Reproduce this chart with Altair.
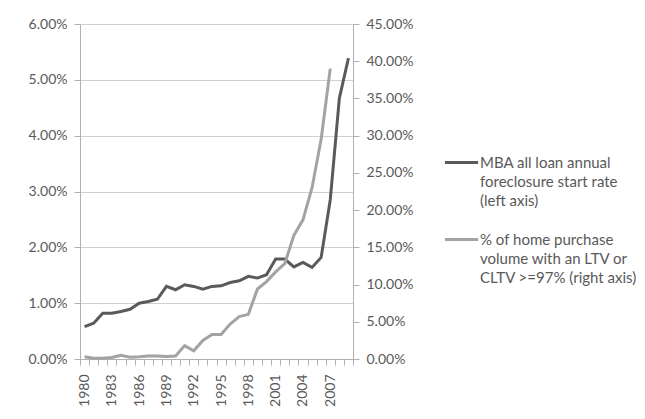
import altair as alt
import pandas as pd

years = list(range(1980, 2010))
foreclosure = [0.58, 0.64, 0.82, 0.82, 0.85, 0.89, 1.00, 1.03, 1.07, 1.30,
               1.24, 1.33, 1.30, 1.25, 1.30, 1.31, 1.37, 1.40, 1.48, 1.45,
               1.51, 1.79, 1.79, 1.65, 1.73, 1.64, 1.82, 2.85, 4.67, 5.39]
ltv97 = [0.3, 0.1, 0.1, 0.2, 0.5, 0.25, 0.3, 0.4, 0.4, 0.35,
         0.4, 1.8, 1.1, 2.5, 3.3, 3.3, 4.7, 5.7, 6.0, 9.4,
         10.4, 11.7, 12.8, 16.6, 18.7, 23.0, 29.5, 39.0, None, None]

s1 = "MBA all loan annual|foreclosure start rate|(left axis)"
s2 = "% of home purchase|volume with an LTV or|CLTV >=97% (right axis)"

df1 = pd.DataFrame({"year": years, "value": foreclosure, "series": s1})
df2 = pd.DataFrame({"year": years, "value": ltv97, "series": s2}).dropna()

FONT = "Lato"
TXT = "#595959"
AX = "#b0b0b0"

tick_vals = [y - 0.5 for y in years] + [2009.5] + years

xenc = alt.X(
    "year:Q",
    scale=alt.Scale(domain=[1979.5, 2009.5], nice=False, zero=False),
    axis=alt.Axis(
        title=None,
        values=tick_vals,
        grid=False,
        labelAngle=-90,
        labelAlign="right",
        labelBaseline="middle",
        labelOverlap=False,
        labelFlush=False,
        labelExpr="(datum.value % 1 == 0 && (datum.value - 1980) % 3 == 0) ? toString(datum.value) : ''",
        tickOpacity={"condition": {"test": "datum.value % 1 == 0", "value": 0}, "value": 1},
        tickSize=6,
        labelPadding=9,
        domainColor=AX,
        tickColor=AX,
    ),
)

color = alt.Color(
    "series:N",
    scale=alt.Scale(domain=[s1, s2], range=["#5a5a5a", "#a3a3a3"]),
    legend=alt.Legend(
        title=None,
        orient="none",
        legendX=363,
        legendY=120,
        symbolType="stroke",
        symbolStrokeWidth=3,
        symbolSize=1100,
        labelExpr="split(datum.label, '|')",
        labelFont=FONT,
        labelFontSize=15,
        labelColor=TXT,
        labelLimit=400,
        labelOffset=0,
        rowPadding=12,
    ),
)

left = alt.Chart(df1).mark_line(strokeWidth=3).encode(
    x=xenc,
    y=alt.Y(
        "value:Q",
        scale=alt.Scale(domain=[0, 6], nice=False),
        axis=alt.Axis(
            title=None,
            values=[0, 1, 2, 3, 4, 5, 6],
            labelExpr="format(datum.value, '.2f') + '%'",
            grid=True,
            gridColor="#d0d0d0",
            tickSize=6,
            labelPadding=7,
            domainColor=AX,
            tickColor=AX,
        ),
    ),
    color=color,
)

right = alt.Chart(df2).mark_line(strokeWidth=3).encode(
    x=xenc,
    y=alt.Y(
        "value:Q",
        scale=alt.Scale(domain=[0, 45], nice=False),
        axis=alt.Axis(
            title=None,
            orient="right",
            values=[0, 5, 10, 15, 20, 25, 30, 35, 40, 45],
            labelExpr="format(datum.value, '.2f') + '%'",
            grid=False,
            tickSize=6,
            labelPadding=7,
            domainColor=AX,
            tickColor=AX,
        ),
    ),
    color=color,
)

chart = (
    alt.layer(left, right)
    .resolve_scale(y="independent")
    .properties(
        width=273,
        height=335,
        autosize=alt.AutoSizeParams(type="none"),
        padding={"left": 72, "top": 16, "right": 284, "bottom": 48},
    )
    .configure(style={"guide-label": {"lineHeight": 19}})
    .configure_view(stroke=None)
    .configure_axis(labelFont=FONT, labelFontSize=14, labelColor=TXT)
)

chart.save("out.html", embed_options={"renderer": "svg", "actions": False})
